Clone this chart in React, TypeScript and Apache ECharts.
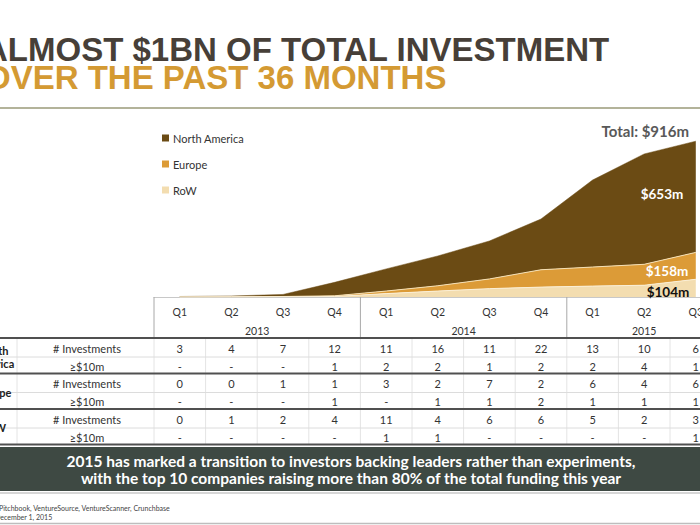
import React, { useEffect, useRef } from "react";
import * as echarts from "echarts";

const quarters = ["Q1", "Q2", "Q3", "Q4", "Q1", "Q2", "Q3", "Q4", "Q1", "Q2", "Q3"];
const years = ["2013", "2014", "2015"];
const quartersPerYear = [4, 4, 3];

// cumulative investment, $m
const northAmerica = [3, 5, 12, 79, 130, 175, 223, 298, 511, 648, 653];
const europe = [0, 0, 1, 4, 15, 31, 57, 102, 112, 123, 158];
const restOfWorld = [0, 1, 2, 3, 20, 35, 49, 58, 64, 69, 104];

const totalLabel = "Total: $916m";
const endLabels = ["$653m", "$158m", "$104m"];

const regionLabels = ["North\nAmerica", "Europe", "RoW"];
const metricLabels = ["# Investments", "≥$10m"];
const naInvestments = ["3", "4", "7", "12", "11", "16", "11", "22", "13", "10", "6"];
const naLarge = ["-", "-", "-", "1", "2", "2", "1", "2", "2", "4", "1"];
const euInvestments = ["0", "0", "1", "1", "3", "2", "7", "2", "6", "4", "6"];
const euLarge = ["-", "-", "-", "1", "-", "1", "1", "2", "1", "1", "1"];
const rowInvestments = ["0", "1", "2", "4", "11", "4", "6", "6", "5", "2", "3"];
const rowLarge = ["-", "-", "-", "-", "1", "1", "-", "-", "-", "-", "1"];

const titleLine1 = "ALMOST $1BN OF TOTAL INVESTMENT";
const titleLine2 = "OVER THE PAST 36 MONTHS";
const bannerLine1 = "2015 has marked a transition to investors backing leaders rather than experiments,";
const bannerLine2 = "with the top 10 companies raising more than 80% of the total funding this year";
const sourceLine = "Pitchbook, VentureSource, VentureScanner, Crunchbase";
const dateLine = "December 1, 2015";

const C_NA = "#6b4b14";
const C_EU = "#dc9b37";
const C_ROW = "#f3ddb0";
const FONT = "Lato";

export default function App() {
  const ref = useRef<HTMLDivElement>(null);
  useEffect(() => {
    if (!ref.current) return;
    const chart = echarts.init(ref.current, undefined, { renderer: "svg" });

    const gridLeft = 154;
    const colW = 51.6;
    const baseY = 297;
    const plotH = 170.3;
    const colX = (i: number) => gridLeft + (i + 0.5) * colW;

    const g: any[] = [];
    const txt = (text: string, x: number, y: number, font: string, fill: string, align = "center", extra: any = {}) =>
      g.push({ type: "text", x, y, z: 100, silent: true, style: { text, font, fill, align, verticalAlign: "middle", ...extra } });
    const ln = (x1: number, y1: number, x2: number, y2: number, stroke: string, lineWidth: number) =>
      g.push({ type: "line", z: 90, silent: true, shape: { x1, y1, x2, y2 }, style: { stroke, lineWidth } });

    // title
    txt(titleLine1, -16, 49.5, `bold 33px "Liberation Sans"`, "#473f38", "left");
    txt(titleLine2, -15, 77, `bold 33px "Liberation Sans"`, "#d49a33", "left");
    ln(0, 108, 760, 108, "#b3b39a", 2);

    // annotations
    txt(totalLabel, 689, 131, `bold 15px ${FONT}`, "#595959", "right");
    txt(endLabels[0], 662, 194, `bold 13.5px ${FONT}`, "#ffffff");
    txt(endLabels[1], 667, 271, `bold 13.5px ${FONT}`, "#ffffff");
    txt(endLabels[2], 668, 292, `bold 13.5px ${FONT}`, "#111111");

    // header
    let start = 0;
    years.forEach((y, k) => {
      const n = quartersPerYear[k];
      const cx = gridLeft + (start + n / 2) * colW;
      txt(y, cx, 331, `10.5px ${FONT}`, "#333");
      ln(gridLeft + start * colW, baseY, gridLeft + start * colW, 338, "#a8a8a8", 1);
      start += n;
    });

    // body vertical separators
    ln(17, 338, 17, 445, "#e4e4e4", 1);
    for (let k = 0; k <= quarters.length; k++) {
      ln(gridLeft + k * colW, 338, gridLeft + k * colW, 445, "#e4e4e4", 1);
    }

    const tableRows = [naInvestments, naLarge, euInvestments, euLarge, rowInvestments, rowLarge];
    for (let grp = 0; grp < 3; grp++) {
      const top = 338 + grp * 35.5;
      ln(0, 357 + grp * 35.5, 760, 357 + grp * 35.5, "#dcdcdc", 1);
      txt(regionLabels[grp], -6, top + 18.5, `bold 11px ${FONT}`, "#222", "center", { lineHeight: 13 });
      for (let r = 0; r < 2; r++) {
        const y = 348 + grp * 35.5 + r * 18;
        txt(metricLabels[r], 87, y, `11px ${FONT}`, "#333");
        tableRows[grp * 2 + r].forEach((v, i) => txt(v, colX(i), y, `11px ${FONT}`, "#333"));
      }
    }
    for (let k = 0; k < 4; k++) ln(0, 338 + k * 35.5, 760, 338 + k * 35.5, "#505050", 2);

    // banner
    g.push({ type: "rect", z: 80, silent: true, shape: { x: 0, y: 447, width: 760, height: 44 }, style: { fill: "#3e4943" } });
    txt(bannerLine1, 351, 461, `bold 15.5px ${FONT}`, "#ffffff");
    txt(bannerLine2, 351, 478, `bold 15.5px ${FONT}`, "#ffffff");
    ln(0, 493, 760, 493, "#c9c9c9", 1.5);

    // footnote
    txt(sourceLine, -1, 508, `7px ${FONT}`, "#444", "left");
    txt(dateLine, -5, 517, `7px ${FONT}`, "#444", "left");
    ln(0, 523.5, 760, 523.5, "#bdbdbd", 1.5);

    const option: any = {
      animation: false,
      backgroundColor: "#ffffff",
      grid: { left: gridLeft, top: baseY - plotH, width: colW * quarters.length, height: plotH },
      legend: {
        orient: "vertical",
        left: 157,
        top: 126.5,
        itemWidth: 7,
        itemHeight: 7,
        itemGap: 13,
        icon: "rect",
        data: ["North America", "Europe", "RoW"],
        textStyle: { fontFamily: FONT, fontSize: 11, color: "#333", lineHeight: 13, padding: [0, 0, 0, -1] },
      },
      xAxis: {
        type: "category",
        data: quarters,
        boundaryGap: true,
        axisLine: { show: true, lineStyle: { color: "#c8c8c8", width: 1 } },
        axisTick: { show: false },
        axisLabel: { color: "#333", fontFamily: FONT, fontSize: 10.5, margin: 9, interval: 0 },
      },
      yAxis: { type: "value", min: 0, max: 1000, show: false, splitLine: { show: false } },
      series: [
        {
          name: "RoW",
          type: "line",
          stack: "total",
          data: restOfWorld,
          showSymbol: false,
          z: 5,
          color: C_ROW,
          lineStyle: { color: "#fbefd6", width: 1 },
          areaStyle: { color: C_ROW, opacity: 1 },
        },
        {
          name: "Europe",
          type: "line",
          stack: "total",
          data: europe,
          showSymbol: false,
          z: 4,
          color: C_EU,
          lineStyle: { color: "#f4dfb4", width: 1 },
          areaStyle: { color: C_EU, opacity: 1 },
        },
        {
          name: "North America",
          type: "line",
          stack: "total",
          data: northAmerica,
          showSymbol: false,
          z: 3,
          color: C_NA,
          lineStyle: { color: C_NA, width: 0.5 },
          areaStyle: { color: C_NA, opacity: 1 },
        },
      ],
      graphic: g,
    };
    chart.setOption(option);
    return () => chart.dispose();
  }, []);
  return (
    <div style={{ position: "fixed", left: 0, top: 0, width: 700, height: 525, overflow: "hidden", background: "#fff" }}>
      <div ref={ref} style={{ width: 760, height: 525 }} />
    </div>
  );
}
